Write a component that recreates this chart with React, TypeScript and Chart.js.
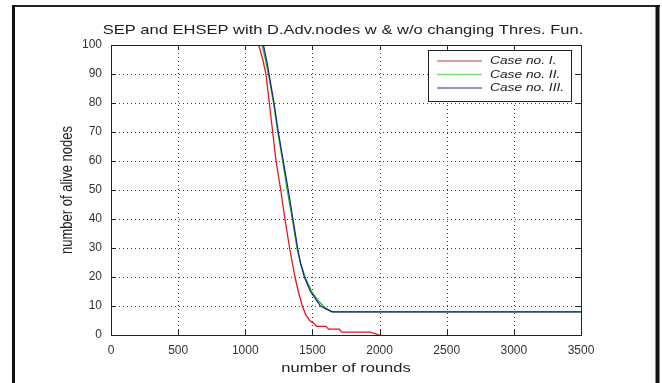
import React, { useEffect, useRef } from 'react';
import { Chart, registerables } from 'chart.js';

Chart.register(...registerables);

const titleText = 'SEP and EHSEP with D.Adv.nodes w & w/o changing Thres. Fun.';
const xAxisLabel = 'number of rounds';
const yAxisLabel = 'number of alive nodes';
const legendLabels = ['Case no. I.', 'Case no. II.', 'Case no. III.'];
const xTickValues = [0, 500, 1000, 1500, 2000, 2500, 3000, 3500];
const yTickValues = [0, 10, 20, 30, 40, 50, 60, 70, 80, 90, 100];

const case1Rounds = [1100, 1130, 1154, 1179, 1204, 1229, 1264, 1295, 1330, 1370, 1395, 1425, 1450, 1480, 1510, 1530, 1600, 1620, 1700, 1720, 1930, 2000];
const case1Alive = [100, 95, 90, 80, 70, 60, 50, 40, 30, 20, 15, 10, 7, 5, 4, 3, 3, 2, 2, 1, 1, 0];

const case2Rounds = [1125, 1150, 1172, 1210, 1242, 1278, 1312, 1350, 1385, 1410, 1445, 1495, 1540, 1580, 1640, 3500];
const case2Alive = [100, 95, 90, 80, 70, 60, 50, 40, 30, 25, 20, 15, 12, 10, 8, 8];

const case3Rounds = [1135, 1158, 1177, 1214, 1246, 1283, 1320, 1355, 1390, 1410, 1440, 1485, 1530, 1560, 1600, 1650, 3500];
const case3Alive = [100, 95, 90, 80, 70, 60, 50, 40, 30, 25, 20, 15, 12, 10, 9, 8, 8];

const seriesColors = ['#e8141e', '#18c018', '#1c1c9c'];
const legendColors = ['#d87878', '#78dc78', '#2a2a80'];

const FONT = '"Liberation Sans", Arial, sans-serif';
const toPoints = (xs: number[], ys: number[]) => xs.map((x, i) => ({ x, y: ys[i] }));

function stretchedText(ctx: any, text: string, x: number, y: number, sx: number) {
  ctx.save();
  ctx.translate(x, y);
  ctx.scale(sx, 1);
  ctx.fillText(text, 0, 0);
  ctx.restore();
}

const decorPlugin = {
  id: 'decor',
  beforeDraw(chart: any) {
    const ctx = chart.ctx;
    ctx.save();
    ctx.fillStyle = '#ffffff';
    ctx.fillRect(0, 0, chart.width, chart.height);
    ctx.strokeStyle = '#222';
    ctx.lineWidth = 2;
    ctx.beginPath();
    ctx.moveTo(12, 6);
    ctx.lineTo(660, 6);
    ctx.stroke();
    ctx.strokeStyle = '#111';
    ctx.lineWidth = 3;
    ctx.beginPath();
    ctx.moveTo(13.5, 5);
    ctx.lineTo(13.5, chart.height);
    ctx.stroke();
    ctx.lineWidth = 4;
    ctx.beginPath();
    ctx.moveTo(657.5, 5);
    ctx.lineTo(657.5, chart.height);
    ctx.stroke();

    const xs = chart.scales.x;
    const ys = chart.scales.y;
    const a = chart.chartArea;
    ctx.strokeStyle = '#444';
    ctx.lineWidth = 1;
    ctx.setLineDash([1, 3]);
    xTickValues.forEach((v) => {
      const px = Math.round(xs.getPixelForValue(v)) + 0.5;
      ctx.beginPath();
      ctx.moveTo(px, a.top);
      ctx.lineTo(px, a.bottom);
      ctx.stroke();
    });
    yTickValues.forEach((v) => {
      const py = Math.round(ys.getPixelForValue(v)) + 0.5;
      ctx.beginPath();
      ctx.moveTo(a.left, py);
      ctx.lineTo(a.right, py);
      ctx.stroke();
    });
    ctx.setLineDash([]);
    ctx.restore();
  },
  afterDraw(chart: any) {
    const ctx = chart.ctx;
    const xs = chart.scales.x;
    const ys = chart.scales.y;
    const a = chart.chartArea;
    ctx.save();
    ctx.strokeStyle = '#222';
    ctx.lineWidth = 1;
    ctx.strokeRect(Math.round(a.left) + 0.5, Math.round(a.top) + 0.5, Math.round(a.right - a.left), Math.round(a.bottom - a.top));
    const tl = 5;
    ctx.beginPath();
    xTickValues.forEach((v) => {
      const px = Math.round(xs.getPixelForValue(v)) + 0.5;
      ctx.moveTo(px, a.bottom);
      ctx.lineTo(px, a.bottom - tl);
      ctx.moveTo(px, a.top);
      ctx.lineTo(px, a.top + tl);
    });
    yTickValues.forEach((v) => {
      const py = Math.round(ys.getPixelForValue(v)) + 0.5;
      ctx.moveTo(a.left, py);
      ctx.lineTo(a.left + tl, py);
      ctx.moveTo(a.right, py);
      ctx.lineTo(a.right - tl, py);
    });
    ctx.stroke();

    const cx = (a.left + a.right) / 2 - 3;
    ctx.fillStyle = '#222';
    ctx.font = `13px ${FONT}`;
    ctx.textAlign = 'center';
    ctx.textBaseline = 'alphabetic';
    stretchedText(ctx, titleText, cx, 34, 1.27);

    ctx.textBaseline = 'middle';
    stretchedText(ctx, xAxisLabel, (a.left + a.right) / 2, 368, 1.27);
    ctx.save();
    ctx.translate(68, (a.top + a.bottom) / 2);
    ctx.rotate(-Math.PI / 2);
    ctx.scale(1, 1.2);
    ctx.fillText(yAxisLabel, 0, 0);
    ctx.restore();

    const lx = 428.5, ly = 50.5, lw = 143, lh = 51;
    ctx.fillStyle = '#ffffff';
    ctx.fillRect(lx, ly, lw, lh);
    ctx.strokeStyle = '#222';
    ctx.lineWidth = 1;
    ctx.strokeRect(lx, ly, lw, lh);
    const rows = [61, 74.5, 88];
    ctx.font = `italic 11px ${FONT}`;
    ctx.textAlign = 'left';
    ctx.textBaseline = 'middle';
    legendLabels.forEach((lab, i) => {
      ctx.strokeStyle = legendColors[i];
      ctx.lineWidth = i === 2 ? 1 : 1.5;
      ctx.beginPath();
      ctx.moveTo(437, rows[i]);
      ctx.lineTo(482, rows[i]);
      ctx.stroke();
      ctx.fillStyle = '#222';
      stretchedText(ctx, lab, 490, rows[i], 1.25);
    });
    ctx.restore();
  },
};

export default function App() {
  const ref = useRef<HTMLCanvasElement>(null);
  useEffect(() => {
    document.body.style.margin = '0';
    const canvas = ref.current!;
    const chart = new Chart(canvas, {
      type: 'line',
      data: {
        datasets: [
          { label: legendLabels[0], data: toPoints(case1Rounds, case1Alive), borderColor: seriesColors[0], borderWidth: 1.3, pointRadius: 0, fill: false, tension: 0, order: 0 },
          { label: legendLabels[1], data: toPoints(case2Rounds, case2Alive), borderColor: seriesColors[1], borderWidth: 1.3, pointRadius: 0, fill: false, tension: 0, order: 2 },
          { label: legendLabels[2], data: toPoints(case3Rounds, case3Alive), borderColor: seriesColors[2], borderWidth: 1.2, pointRadius: 0, fill: false, tension: 0, order: 1 },
        ],
      },
      options: {
        animation: false,
        responsive: false,
        maintainAspectRatio: false,
        devicePixelRatio: 1,
        layout: { padding: { top: 45, right: 81, left: 0, bottom: 0 } },
        plugins: { legend: { display: false }, title: { display: false }, tooltip: { enabled: false } },
        scales: {
          x: {
            type: 'linear',
            min: 0,
            max: 3500,
            afterFit: (s: any) => { s.height = 48; },
            afterBuildTicks: (s: any) => { s.ticks = xTickValues.map((v) => ({ value: v })); },
            grid: { display: false, drawTicks: false },
            border: { display: false },
            ticks: { padding: 8, color: '#333', font: { family: FONT, size: 12 }, maxRotation: 0, callback: (v: any) => String(v) },
          },
          y: {
            type: 'linear',
            min: 0,
            max: 100,
            afterFit: (s: any) => { s.width = 111; },
            afterBuildTicks: (s: any) => { s.ticks = yTickValues.map((v) => ({ value: v })); },
            grid: { display: false, drawTicks: false },
            border: { display: false },
            ticks: { padding: 9, color: '#333', font: { family: FONT, size: 12 }, callback: (v: any) => String(v) },
          },
        },
      },
      plugins: [decorPlugin],
    });
    return () => chart.destroy();
  }, []);
  return <canvas ref={ref} width={662} height={383} style={{ display: 'block', width: 662, height: 383 }} />;
}
